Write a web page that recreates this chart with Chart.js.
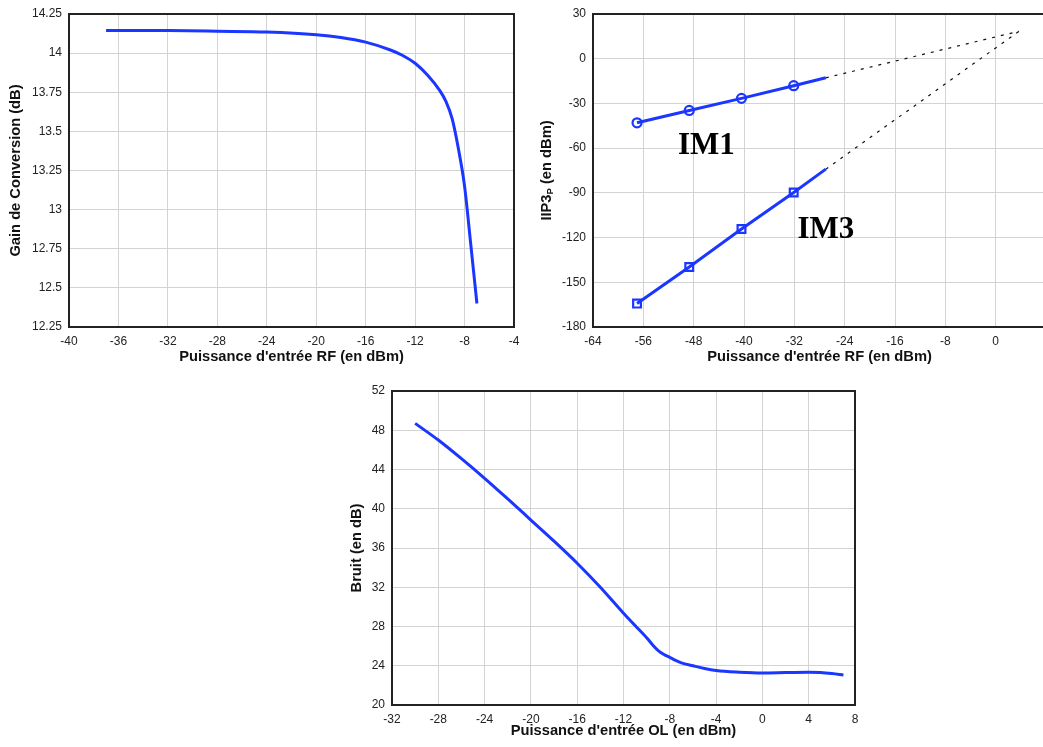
<!DOCTYPE html>
<html>
<head>
<meta charset="utf-8">
<script src="https://cdn.jsdelivr.net/npm/chart.js@4.4.0/dist/chart.umd.min.js"></script>
<style>
  html, body { margin: 0; padding: 0; background: #fff; overflow: hidden; width: 1043px; height: 747px; }
  canvas { position: absolute; }
</style>
</head>
<body>
<canvas id="gainChart" width="520" height="370" style="left:0;top:0"></canvas>
<canvas id="iip3Chart" width="526" height="370" style="left:520px;top:0"></canvas>
<canvas id="noiseChart" width="520" height="372" style="left:340px;top:375px"></canvas>
<script>
// Gain de conversion vs puissance RF
const gainX = [-37, -32, -28, -24, -20, -18, -16, -14, -13, -12, -11, -10, -9.5, -9, -8.5, -8, -7.5, -7];
const gainY = [14.145, 14.144, 14.14, 14.135, 14.118, 14.1, 14.07, 14.02, 13.985, 13.935, 13.86, 13.76, 13.69, 13.58, 13.39, 13.15, 12.78, 12.4];
const gainXTicks = [-40, -36, -32, -28, -24, -20, -16, -12, -8, -4];
const gainYTicks = [12.25, 12.5, 12.75, 13, 13.25, 13.5, 13.75, 14, 14.25];

// IIP3 : fondamental (IM1) et produit d'intermodulation (IM3)
const im1X = [-57, -48.7, -40.4, -32.1, -27];
const im1Y = [-43, -34.7, -26.6, -18.1, -12.8];
const im3X = [-57, -48.7, -40.4, -32.1, -27];
const im3Y = [-164.3, -139.7, -114.2, -89.8, -74.1];
const iip3Point = [3.7, 18.4];
const iip3XTicks = [-64, -56, -48, -40, -32, -24, -16, -8, 0, 8];
const iip3YTicks = [-180, -150, -120, -90, -60, -30, 0, 30];
const iip3Labels = [
  { text: 'IM1', x: -50.5, y: -64 },
  { text: 'IM3', x: -31.5, y: -120.2 }
];

// Bruit vs puissance OL
const noiseX = [-30, -28, -26, -24, -22, -20, -18, -16, -14, -12, -11, -10, -9.5, -9, -8.5, -8, -7.5, -7, -6, -5, -4, -2, 0, 2, 4, 5, 6, 7];
const noiseY = [48.7, 47.0, 45.1, 43.1, 41.0, 38.85, 36.7, 34.45, 32.0, 29.35, 28.1, 26.85, 26.15, 25.55, 25.15, 24.85, 24.55, 24.3, 24.0, 23.72, 23.52, 23.35, 23.27, 23.3, 23.33, 23.3, 23.2, 23.05];
const noiseXTicks = [-32, -28, -24, -20, -16, -12, -8, -4, 0, 4, 8];
const noiseYTicks = [20, 24, 28, 32, 36, 40, 44, 48, 52];

const BLUE = '#1a36ff';
const TITLE_SIZE = 14.7;
Chart.defaults.font.family = "'Liberation Sans', Arial, sans-serif";
Chart.defaults.color = '#222';

const pts = (xs, ys) => xs.map((x, i) => ({ x: x, y: ys[i] }));

// cadre noir autour de la zone de tracé
const frame = {
  id: 'frame',
  beforeDatasetsDraw(chart) {
    const a = chart.chartArea, c = chart.ctx;
    c.save();
    c.strokeStyle = '#222';
    c.lineWidth = 2;
    c.strokeRect(a.left, a.top, a.right - a.left, a.bottom - a.top);
    c.restore();
  }
};

function axis(ticks, size, title, titlePad, hideLast) {
  return {
    type: 'linear',
    min: ticks[0],
    max: ticks[ticks.length - 1],
    afterBuildTicks: s => { s.ticks = ticks.map(v => ({ value: v })); },
    afterFit: s => {
      if (s.isHorizontal()) { s.height = size; s.paddingLeft = 0; s.paddingRight = 0; }
      else { s.width = size; s.paddingTop = 0; s.paddingBottom = 0; }
    },
    grid: { color: '#d3d3d3', lineWidth: 1, drawTicks: false },
    border: { display: false },
    ticks: {
      padding: 7, autoSkip: false, maxRotation: 0,
      font: { size: 12 }, color: '#222',
      // la dernière graduation tombe hors de la fenêtre
      callback: (v, i, all) => (hideLast && i === all.length - 1) ? '' : String(v)
    },
    title: {
      display: !!title, text: title, color: '#111',
      font: { size: TITLE_SIZE, weight: 'bold' },
      padding: titlePad
    }
  };
}

function baseOptions(pad, scales) {
  return {
    responsive: false,
    animation: false,
    devicePixelRatio: 1,
    layout: { padding: pad, autoPadding: false },
    plugins: { legend: { display: false }, tooltip: { enabled: false } },
    scales: scales
  };
}

new Chart(document.getElementById('gainChart'), {
  type: 'line',
  data: {
    datasets: [{
      data: pts(gainX, gainY),
      borderColor: BLUE, borderWidth: 3,
      pointRadius: 0, fill: false,
      cubicInterpolationMode: 'monotone'
    }]
  },
  options: baseOptions({ top: 14, right: 6, left: 0, bottom: 0 }, {
    x: axis(gainXTicks, 43, "Puissance d'entrée RF (en dBm)", { top: 0, bottom: 4.2 }),
    y: axis(gainYTicks, 69, 'Gain de Conversion (dB)', { top: 7.2, bottom: 0 })
  }),
  plugins: [frame]
});

// étiquettes IM1 / IM3 et titre d'axe avec indice
const iip3Text = {
  id: 'iip3Text',
  afterDatasetsDraw(chart) {
    const c = chart.ctx, xs = chart.scales.x, ys = chart.scales.y;
    c.save();
    c.fillStyle = '#000';
    c.font = "bold 31px 'Liberation Serif', 'Times New Roman', serif";
    c.textBaseline = 'alphabetic';
    c.textAlign = 'left';
    iip3Labels.forEach(l => c.fillText(l.text, xs.getPixelForValue(l.x), ys.getPixelForValue(l.y)));
    c.restore();
  },
  afterDraw(chart) {
    const c = chart.ctx, a = chart.chartArea;
    const big = "bold " + TITLE_SIZE + "px 'Liberation Sans', Arial, sans-serif";
    const small = "bold 9.5px 'Liberation Sans', Arial, sans-serif";
    c.save();
    c.fillStyle = '#111';
    c.font = big; const w1 = c.measureText('IIP3').width;
    c.font = small; const w2 = c.measureText('P').width;
    c.font = big; const w3 = c.measureText(' (en dBm)').width;
    const total = w1 + w2 + w3;
    c.translate(26.7, (a.top + a.bottom) / 2);
    c.rotate(-Math.PI / 2);
    c.textBaseline = 'middle';
    c.textAlign = 'left';
    let x = -total / 2;
    c.font = big; c.fillText('IIP3', x, 0); x += w1;
    c.font = small; c.fillText('P', x, 4); x += w2;
    c.font = big; c.fillText(' (en dBm)', x, 0);
    c.restore();
  }
};

const markerSet = (shape, r) => ({
  borderColor: BLUE, borderWidth: 3,
  pointStyle: shape,
  pointRadius: ctx => ctx.dataIndex < 4 ? r : 0,
  pointBorderWidth: 2.2,
  pointBorderColor: BLUE,
  pointBackgroundColor: 'rgba(0,0,0,0)',
  fill: false, tension: 0
});

const dotted = {
  borderColor: '#111', borderWidth: 1.2, borderDash: [3, 6],
  pointRadius: 0, fill: false
};

new Chart(document.getElementById('iip3Chart'), {
  type: 'line',
  data: {
    datasets: [
      Object.assign({ data: pts(im1X, im1Y) }, markerSet('circle', 4.5)),
      Object.assign({ data: pts(im3X, im3Y) }, markerSet('rect', 5.5)),
      Object.assign({ data: [{ x: im1X[4], y: im1Y[4] }, { x: iip3Point[0], y: iip3Point[1] }] }, dotted),
      Object.assign({ data: [{ x: im3X[4], y: im3Y[4] }, { x: iip3Point[0], y: iip3Point[1] }] }, dotted)
    ]
  },
  options: baseOptions({ top: 14, right: 0, left: 0, bottom: 0 }, {
    x: axis(iip3XTicks, 43, "Puissance d'entrée RF (en dBm)", { top: 0, bottom: 4.2 }, true),
    y: axis(iip3YTicks, 73, '', 0)
  }),
  plugins: [frame, iip3Text]
});

new Chart(document.getElementById('noiseChart'), {
  type: 'line',
  data: {
    datasets: [{
      data: pts(noiseX, noiseY),
      borderColor: BLUE, borderWidth: 3,
      pointRadius: 0, fill: false,
      cubicInterpolationMode: 'monotone'
    }]
  },
  options: baseOptions({ top: 16, right: 5, left: 0, bottom: 0 }, {
    x: axis(noiseXTicks, 42, "Puissance d'entrée OL (en dBm)", { top: 0, bottom: 7.2 }),
    y: axis(noiseYTicks, 52, 'Bruit (en dB)', { top: 7.9, bottom: 0 })
  }),
  plugins: [frame]
});
</script>
</body>
</html>
